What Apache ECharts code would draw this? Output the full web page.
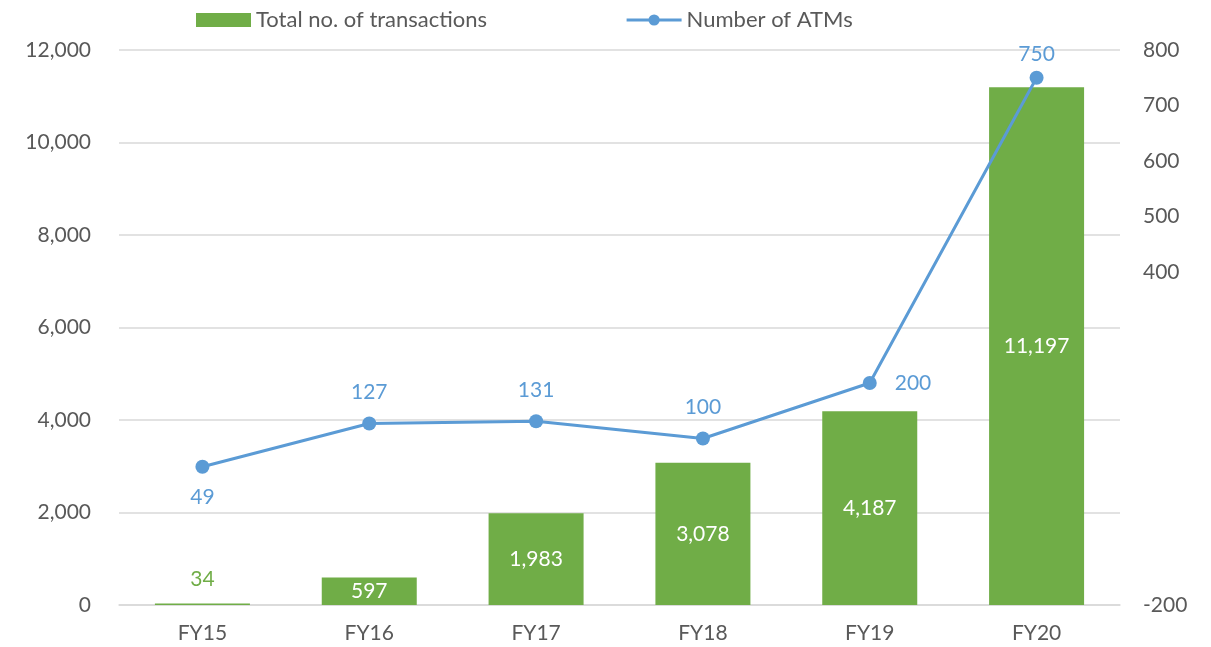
<!doctype html>
<html lang="en">
<head>
    <meta charset="UTF-8">
    <title>Transactions and ATMs</title>
    <style>
        html, body { margin: 0; padding: 0; background: #fff; }
        #main { width: 1211px; height: 647px; }
    </style>
</head>
<body>
    <div id="main"></div>
</body>
<script src="https://cdn.jsdelivr.net/npm/echarts@6/dist/echarts.min.js"></script>
<script type="text/javascript">
    const years = ['FY15', 'FY16', 'FY17', 'FY18', 'FY19', 'FY20']
    const transactions = [34, 597, 1983, 3078, 4187, 11197]
    const atms = [49, 127, 131, 100, 200, 750]
    // where each ATM label sits
    const atmLabelPos = ['bottom', 'top', 'top', 'top', 'right', 'top']
    const atmLabelGap = [13, 14, 14, 14, 18, 6]

    const font = 'Lato, "Open Sans", sans-serif'
    const grey = '#595959'
    const green = '#70AD47'
    const blue = '#5B9BD5'
    const fmt = v => v.toLocaleString('en-US')

    const myChart = echarts.init(document.getElementById('main'))

    const option = {
        animation: false,
        textStyle: { fontFamily: font },
        grid: { left: 119, right: 91, top: 50, bottom: 42 },
        legend: {
            top: 4,
            left: 191,
            itemGap: 138,
            textStyle: { fontSize: 22, color: grey, fontFamily: font },
            data: [
                { name: 'Total no. of transactions', icon: 'rect', itemWidth: 50, itemHeight: 14 },
                { name: 'Number of ATMs', lineStyle: { width: 3 } }
            ],
            itemWidth: 55,
            itemHeight: 14
        },
        xAxis: {
            type: 'category',
            data: years,
            axisTick: { show: false },
            axisLine: { lineStyle: { color: '#D9D9D9', width: 1.5 } },
            axisLabel: { color: grey, fontSize: 21, margin: 18 }
        },
        yAxis: [
            {
                type: 'value',
                min: 0, max: 12000, interval: 2000,
                axisLabel: { color: grey, fontSize: 21, margin: 28, formatter: fmt },
                splitLine: { lineStyle: { color: '#D9D9D9', width: 1.5 } },
                axisLine: { show: false }, axisTick: { show: false }
            },
            {
                type: 'value',
                min: -200, max: 800, interval: 100,
                axisLabel: {
                    color: grey, fontSize: 21, margin: 23,
                    formatter: v => (v >= 400 || v === -200) ? String(v) : ''
                },
                splitLine: { show: false },
                axisLine: { show: false }, axisTick: { show: false }
            }
        ],
        series: [
            {
                name: 'Total no. of transactions',
                type: 'bar',
                yAxisIndex: 0,
                barWidth: 95,
                itemStyle: { color: green },
                data: transactions.map((v, i) => ({
                    value: v,
                    label: i === 0
                        ? { show: true, position: 'top', color: green, distance: 14 }
                        : { show: true, position: 'inside', color: '#fff' }
                })),
                label: { fontSize: 21, formatter: p => fmt(p.value) }
            },
            {
                name: 'Number of ATMs',
                type: 'line',
                yAxisIndex: 1,
                symbol: 'circle',
                symbolSize: 14,
                lineStyle: { color: blue, width: 3 },
                itemStyle: { color: blue },
                data: atms.map((v, i) => ({
                    value: v,
                    label: { position: atmLabelPos[i], distance: atmLabelGap[i] }
                })),
                label: { show: true, color: blue, fontSize: 21 }
            }
        ]
    }

    myChart.setOption(option)
</script>
</html>
